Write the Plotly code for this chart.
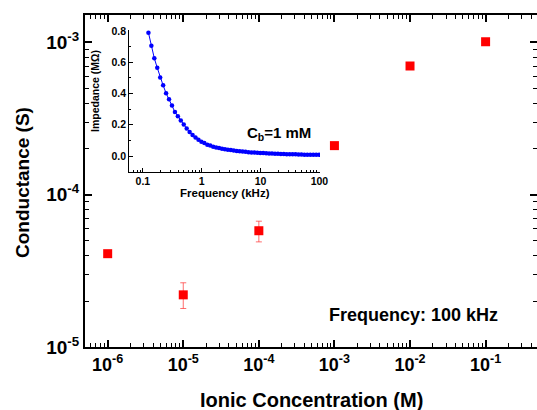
import plotly.graph_objects as go

# ---- main data ----
conc = [1e-6, 1e-5, 1e-4, 1e-3, 1e-2, 1e-1]
conductance = [4.1e-5, 2.2e-5, 5.8e-5, 2.1e-4, 7.0e-4, 1.01e-3]
err_plus = [0, 0.44e-5, 0.9e-5, 0, 0, 0]
err_minus = [0, 0.41e-5, 0.9e-5, 0, 0, 0]

x_tickvals = [1e-6, 1e-5, 1e-4, 1e-3, 1e-2, 1e-1]
x_ticktext = ["10<sup>-6</sup>", "10<sup>-5</sup>", "10<sup>-4</sup>",
              "10<sup>-3</sup>", "10<sup>-2</sup>", "10<sup>-1</sup>"]
y_tickvals = [1e-5, 1e-4, 1e-3]
y_ticktext = ["10<sup>-5</sup>", "10<sup>-4</sup>", "10<sup>-3</sup>"]

# ---- inset data ----
freq_khz = [0.1245, 0.1396, 0.1567, 0.1758, 0.1972, 0.2213, 0.2483, 0.2786, 0.3126, 0.3508,
            0.3936, 0.4416, 0.4955, 0.5559, 0.6237, 0.6998, 0.7852, 0.8810, 0.9886,
            1.109, 1.245, 1.396, 1.567, 1.758, 1.972, 2.213, 2.483, 2.786, 3.126, 3.508,
            3.936, 4.416, 4.955, 5.559, 6.237, 6.998, 7.852, 8.810, 9.886,
            11.09, 12.45, 13.96, 15.67, 17.58, 19.72, 22.13, 24.83, 27.86, 31.26, 35.08,
            39.36, 44.16, 49.55, 55.59, 62.37, 69.98, 78.52, 88.10, 98.86]
impedance = [0.789, 0.706, 0.625, 0.564, 0.503, 0.452, 0.402, 0.364, 0.323, 0.282,
             0.255, 0.227, 0.201, 0.176, 0.154, 0.135, 0.118, 0.105, 0.092,
             0.083, 0.073, 0.067, 0.060, 0.055, 0.051, 0.047, 0.044, 0.041, 0.038, 0.035,
             0.033, 0.031, 0.029, 0.027, 0.025, 0.023, 0.022, 0.021, 0.020,
             0.019, 0.018, 0.017, 0.016, 0.015, 0.014, 0.013, 0.013, 0.012, 0.012, 0.011,
             0.011, 0.010, 0.010, 0.009, 0.009, 0.009, 0.008, 0.008, 0.008]
inset_x_tickvals = [0.1, 1, 10, 100]
inset_x_ticktext = ["0.1", "1", "10", "100"]
inset_y_tickvals = [0.0, 0.2, 0.4, 0.6, 0.8]
inset_y_ticktext = ["0.0", "0.2", "0.4", "0.6", "0.8"]

def minor_log(lo, hi):
    vals = []
    for e in range(lo, hi + 1):
        for m in range(2, 10):
            vals.append(m * 10 ** e)
    return vals

FONT = "Liberation Sans"
W, H = 537, 410
L, R, T, B = 85, 0, 15, 63
PW, PH = W - L - R, H - T - B

def px(x):
    return (x - L) / PW

def py(y):
    return (H - B - y) / PH

fig = go.Figure()
fig.add_trace(go.Scatter(
    x=conc, y=conductance, mode="markers",
    marker=dict(symbol="square", size=9, color="#ff0000"),
    error_y=dict(type="data", array=err_plus, arrayminus=err_minus,
                 color="rgba(255,60,60,0.75)", thickness=1, width=3),
    xaxis="x", yaxis="y", showlegend=False))

fig.add_trace(go.Scatter(
    x=freq_khz, y=impedance, mode="lines+markers",
    line=dict(color="#0000ff", width=1),
    marker=dict(symbol="circle", size=4.5, color="#0000ff"),
    xaxis="x2", yaxis="y2", showlegend=False))

axis_common = dict(showgrid=False, zeroline=False, showline=True, automargin=False,
                   linecolor="black", ticks="inside", tickcolor="black")

fig.update_layout(
    width=W, height=H,
    margin=dict(l=L, r=R, t=T, b=B),
    paper_bgcolor="white", plot_bgcolor="white",
    font=dict(family=FONT, color="black"),
    xaxis=dict(type="log", range=[-6.30, -0.32], domain=[0, 1],
               tickvals=x_tickvals, ticktext=x_ticktext,
               linewidth=2, ticklen=7, tickwidth=1.5, mirror="allticks",
               tickfont=dict(size=18, family=FONT, color="black", weight="bold"),
               minor=dict(tickvals=minor_log(-7, 0), ticks="inside", ticklen=4,
                          tickwidth=1.2, tickcolor="black"),
               **axis_common),
    yaxis=dict(type="log", range=[-5.0, -2.82], domain=[0, 1],
               tickvals=y_tickvals, ticktext=y_ticktext,
               linewidth=2, ticklen=7, tickwidth=1.5, mirror="allticks",
               tickfont=dict(size=19, family=FONT, color="black", weight="bold"),
               minor=dict(tickvals=minor_log(-6, -3), ticks="inside", ticklen=4,
                          tickwidth=1.2, tickcolor="black"),
               **axis_common),
    xaxis2=dict(type="log", range=[-1.23, 2.01], domain=[px(129.3), px(320)],
                anchor="y2", tickvals=inset_x_tickvals, ticktext=inset_x_ticktext,
                linewidth=1.2, ticklen=4, tickwidth=1,
                tickfont=dict(size=10.5, family=FONT, color="black", weight="bold"),
                minor=dict(tickvals=minor_log(-2, 2), ticks="inside", ticklen=2,
                           tickwidth=1, tickcolor="black"),
                **axis_common),
    yaxis2=dict(range=[-0.1, 0.806], domain=[py(171.7), py(30)],
                anchor="x2", tickvals=inset_y_tickvals, ticktext=inset_y_ticktext,
                linewidth=1.2, ticklen=4, tickwidth=1,
                tickfont=dict(size=10.5, family=FONT, color="black", weight="bold"),
                minor=dict(dtick=0.1, ticks="inside", ticklen=2,
                           tickwidth=1, tickcolor="black"),
                **axis_common),
)

ann = [
    dict(text="<b>Conductance (S)</b>", x=px(22), y=py(183), textangle=-90,
         font=dict(size=19)),
    dict(text="<b>Ionic Concentration (M)</b>", x=px(311), y=py(400),
         font=dict(size=20)),
    dict(text="<b>C<sub>b</sub>=1 mM</b>", x=px(279), y=py(133),
         font=dict(size=15)),
    dict(text="<b>Frequency: 100 kHz</b>", x=px(413), y=py(315),
         font=dict(size=18)),
    dict(text="<b>Impedance (MΩ)</b>", x=px(95), y=py(91), textangle=-90,
         font=dict(size=10.5)),
    dict(text="<b>Frequency (kHz)</b>", x=px(225), y=py(193),
         font=dict(size=11.5)),
]
for a in ann:
    a.update(xref="paper", yref="paper", showarrow=False,
             xanchor="center", yanchor="middle")
    a["font"].update(family=FONT, color="black")
    fig.add_annotation(**a)

fig.write_html("out.html", config={"displayModeBar": False},
               post_script="document.body.style.margin='0';document.body.style.overflow='hidden';")
